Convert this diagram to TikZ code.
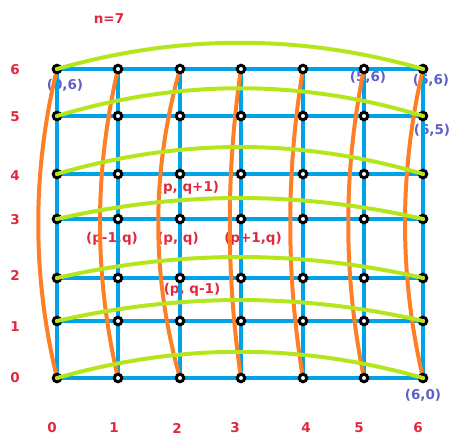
\documentclass[tikz,border=0pt]{standalone}
\usepackage{fontspec}
\setmainfont{DejaVu Sans}
\usetikzlibrary{calc}
\definecolor{gridblue}{RGB}{0,162,232}
\definecolor{rowgreen}{RGB}{181,230,29}
\definecolor{colorange}{RGB}{255,127,39}
\definecolor{labelred}{RGB}{225,40,60}
\definecolor{labelblue}{RGB}{95,95,200}
\begin{document}
\begin{tikzpicture}[x=1pt,y=-1pt,
  gridline/.style={gridblue,line width=4pt,line cap=rect},
  rowcurve/.style={rowgreen,line width=4pt,line cap=round},
  colcurve/.style={colorange,line width=4pt,line cap=round},
  dot/.style={circle,draw=black,line width=3pt,fill=white,minimum size=7.5pt,inner sep=0pt},
  redlbl/.style={text=labelred,font=\bfseries\fontsize{13.5}{15}\selectfont,inner sep=1pt},
  bluelbl/.style={text=labelblue,font=\bfseries\fontsize{13.5}{15}\selectfont,inner sep=1pt}]
  \useasboundingbox (0,0) rectangle (453,437);

  \foreach \c/\x in {0/57,1/118,2/180,3/241,4/303,5/364,6/423}
    \foreach \r/\y in {0/378,1/321,2/278,3/219,4/174,5/116,6/69}
      \coordinate (g\c\r) at (\x,\y);

  % labels that the grid runs over
  \node[redlbl] (pqu) at (188,188) {(p, q+1)};
  \node[redlbl] (pql) at (112,239) {(p-1,q)};
  \node[redlbl] (pq)  at (178,239) {(p, q)};
  \node[redlbl] (pqr) at (253,239) {(p+1,q)};
  \node[redlbl] (pqd) at (192,290) {(p, q-1)};
  \node[bluelbl] (l06) at (65,85)   {(0,6)};
  \node[bluelbl] (l56) at (368,77)  {(5,6)};
  \node[bluelbl] (l66) at (431,80)  {(6,6)};
  \node[bluelbl] (l65) at (432,130) {(6,5)};
  \node[bluelbl] (l60) at (423,395) {(6,0)};

  % blue grid
  \foreach \i [evaluate=\i as \j using int(\i+1)] in {0,...,5}
    \foreach \k in {0,...,6} {
      \draw[gridline] (g\i\k) -- (g\j\k);
      \draw[gridline] (g\k\i) -- (g\k\j);
    }

  % orange columns
  \foreach \c/\b in {0/25,1/24,2/29,3/15,4/17,5/21,6/24}
    \draw[colcurve] (g\c0) .. controls ($(g\c0)+(-\b,-103)$) and ($(g\c6)+(-\b,103)$) .. (g\c6);

  \foreach \c in {0,...,6}
    \foreach \r in {0,...,6}
      \node[dot] (p\c\r) at (g\c\r) {};

  % green rows
  \foreach \r/\b in {0/35,1/28,2/28,3/28,4/36,5/37,6/35}
    \draw[rowcurve] (g0\r) .. controls ($(g0\r)+(122,-\b)$) and ($(g6\r)+(-122,-\b)$) .. (g6\r);

  \node[redlbl] (n) at (109,19) {n=7};
  \foreach \r/\y in {0/378,1/327,2/275,3/220,4/176,5/117,6/70}
    \node[redlbl] (r\r) at (15,\y) {\r};
  \foreach \c/\x in {0/52,1/114,2/177,3/235,4/306,5/359,6/418}
    \node[redlbl] (c\c) at (\x,428) {\c};
\end{tikzpicture}
\end{document}
